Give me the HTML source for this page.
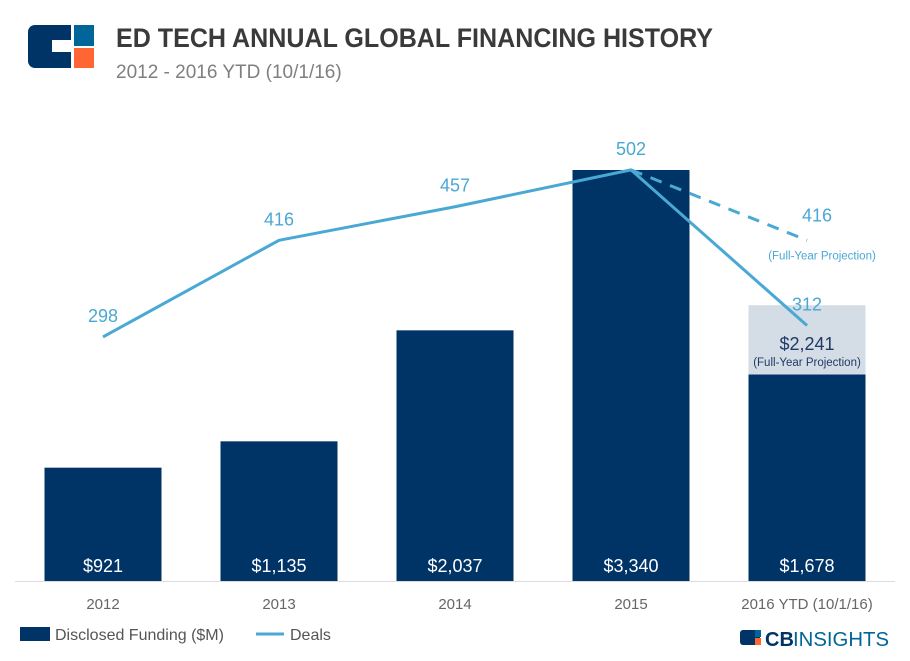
<!DOCTYPE html>
<html><head><meta charset="utf-8"><style>
body{margin:0;background:#fff;font-family:"Liberation Sans",sans-serif;}
#wrap{position:relative;width:910px;height:661px;overflow:hidden;}
</style></head><body>
<div id="wrap">
<svg width="910" height="661">
 <g>
  <rect x="28" y="25" width="66" height="43" rx="7" fill="#003366"/>
  <rect x="74" y="25" width="20" height="22" fill="#006699"/>
  <rect x="74" y="48" width="20" height="20" fill="#ff6633"/>
  <rect x="52" y="40" width="22" height="12" fill="#fff"/>
  <rect x="71" y="25" width="3" height="43" fill="#fff"/>
  <rect x="71" y="46" width="23" height="2" fill="#fff"/>
 </g>
 <text x="116" y="47" font-size="27" font-weight="bold" fill="#3a3a3a" textLength="597" lengthAdjust="spacingAndGlyphs">ED TECH ANNUAL GLOBAL FINANCING HISTORY</text>
 <text x="116" y="78" font-size="19" fill="#7f7f7f">2012 - 2016 YTD (10/1/16)</text>
 <line x1="15" y1="581.5" x2="895" y2="581.5" stroke="#dddddd"/>
 <g id="bars"></g>
 <g id="lines"></g>
 <g>
  <rect x="20" y="627" width="30" height="14" fill="#003366"/>
  <text x="55" y="640" font-size="16" fill="#555">Disclosed Funding ($M)</text>
  <line x1="256" y1="634" x2="284" y2="634" stroke="#4aa8d4" stroke-width="3"/>
  <text x="290" y="640" font-size="16" fill="#555">Deals</text>
 </g>
 <g>
  <rect x="740" y="630" width="20" height="15" rx="3" fill="#003366"/>
  <rect x="755" y="630" width="6" height="7" fill="#006699"/>
  <rect x="755" y="638" width="6" height="7" fill="#ff6633"/>
  <text x="765" y="646" font-size="20" font-weight="bold" fill="#003366">CB</text>
  <text x="793" y="646" font-size="20" fill="#006699" textLength="96" lengthAdjust="spacingAndGlyphs">INSIGHTS</text>
 </g>
</svg>
</div>
<script>
const categories=["2012","2013","2014","2015","2016 YTD (10/1/16)"];
const funding=[921,1135,2037,3340,1678];
const fundingLabels=["$921","$1,135","$2,037","$3,340","$1,678"];
const deals=[298,416,457,502,312];
const projectedFunding=2241;
const projectedDeals=416;
const NS="http://www.w3.org/2000/svg";
const base=581, x0=103, step=176, barW=117;
const xS=i=>x0+i*step;
const yF=v=>base-v*411/3340;
const yD=v=>base-v*0.819;
function mk(t,a,p){const e=document.createElementNS(NS,t);for(const k in a)e.setAttribute(k,a[k]);p.appendChild(e);return e;}
const bars=document.getElementById('bars'), lines=document.getElementById('lines');
const last=categories.length-1;
const pr=mk('rect',{x:xS(last)-barW/2,y:yF(projectedFunding),width:barW,height:yF(funding[last])-yF(projectedFunding),fill:'#d4dce5'},bars);


funding.forEach((v,i)=>{
 const r=mk('rect',{x:xS(i)-barW/2,y:yF(v),width:barW,height:base-yF(v),fill:'#003366'},bars);
 
 
 const t=mk('text',{x:xS(i),y:572,'text-anchor':'middle','font-size':18,fill:'#fff'},bars);
 t.textContent=fundingLabels[i];
 
 
 const c=mk('text',{x:xS(i),y:609,'text-anchor':'middle','font-size':15,fill:'#666'},bars);
 c.textContent=categories[i];
 
 
});
const pt=mk('text',{x:xS(last),y:350,'text-anchor':'middle','font-size':18,fill:'#1f3a66'},bars);
pt.textContent='$2,241';


const pt2=mk('text',{x:xS(last),y:366,'text-anchor':'middle','font-size':11.5,fill:'#1f3a66'},bars);
pt2.textContent='(Full-Year Projection)';


const pts=deals.map((v,i)=>xS(i)+','+yD(v)).join(' ');
const pl=mk('polyline',{points:pts,fill:'none',stroke:'#4aa8d4','stroke-width':3,'stroke-linejoin':'round'},lines);


const dl=mk('line',{x1:xS(3),y1:yD(deals[3]),x2:xS(last),y2:yD(projectedDeals),stroke:'#4aa8d4','stroke-width':3,'stroke-dasharray':'12,9'},lines);


deals.forEach((v,i)=>{
 const t=mk('text',{x:xS(i),y:yD(v)-15,'text-anchor':'middle','font-size':18,fill:'#4aa8d4'},lines);
 t.textContent=v;
 
 
});
const dp=mk('text',{x:xS(last)+10,y:yD(projectedDeals)-19,'text-anchor':'middle','font-size':18,fill:'#4aa8d4'},lines);
dp.textContent=projectedDeals;


const dp2=mk('text',{x:xS(last)+15,y:yD(projectedDeals)+19,'text-anchor':'middle','font-size':11.5,fill:'#4aa8d4'},lines);
dp2.textContent='(Full-Year Projection)';


</script>
</body></html>
